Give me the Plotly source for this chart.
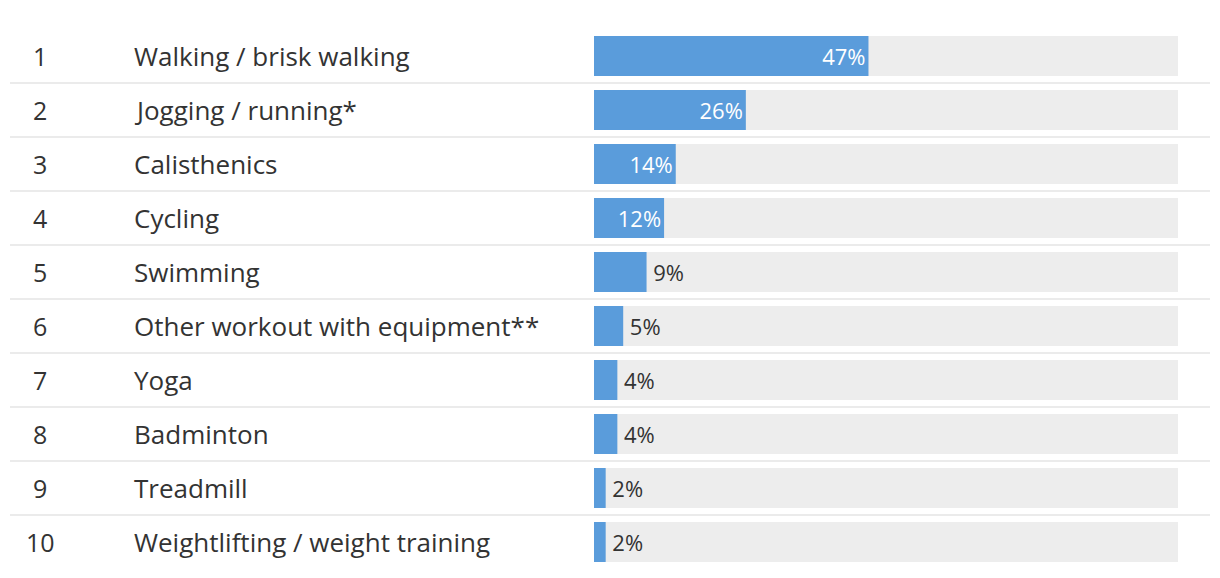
import plotly.graph_objects as go

ranks = ["1", "2", "3", "4", "5", "6", "7", "8", "9", "10"]
activities = [
    "Walking / brisk walking",
    "Jogging / running*",
    "Calisthenics",
    "Cycling",
    "Swimming",
    "Other workout with equipment**",
    "Yoga",
    "Badminton",
    "Treadmill",
    "Weightlifting / weight training",
]
values = [47, 26, 14, 12, 9, 5, 4, 4, 2, 2]
full = [100] * len(values)

W, H = 1220, 578
FONT = "Open Sans"
TEXT = "#333333"
BLUE = "#5a9cdb"
GREY = "#ededed"

ypos = list(range(len(values)))

fig = go.Figure()
fig.add_trace(go.Bar(
    x=full, y=ypos, orientation="h", marker=dict(color=GREY, line=dict(width=0)),
    width=0.74, hoverinfo="skip", showlegend=False,
))
positions = ["inside" if v >= 12 else "outside" for v in values]
colors = ["white" if v >= 12 else TEXT for v in values]
labels = [f"{v}%" if v >= 12 else f"\u2009{v}%" for v in values]
fig.add_trace(go.Bar(
    x=values, y=ypos, orientation="h", marker=dict(color=BLUE, line=dict(width=0)),
    width=0.74, text=labels, textposition=positions,
    insidetextanchor="end", constraintext="none", cliponaxis=False,
    textfont=dict(family=FONT, size=22, color=colors),
    showlegend=False,
))

for i, (r, a) in enumerate(zip(ranks, activities)):
    fig.add_annotation(x=40 / W, xref="paper", y=i, yref="y", text=r,
                       showarrow=False, xanchor="center",
                       font=dict(family=FONT, size=25, color=TEXT))
    fig.add_annotation(x=132 / W, xref="paper", y=i, yref="y", text=a,
                       showarrow=False, xanchor="left",
                       font=dict(family=FONT, size=26, color=TEXT))

for i in range(len(values) - 1):
    fig.add_shape(type="line", xref="paper", yref="y",
                  x0=10 / W, x1=1210 / W, y0=i + 0.5, y1=i + 0.5,
                  line=dict(color="#ebebeb", width=2), layer="below")

fig.update_layout(
    width=W, height=H, margin=dict(l=0, r=0, t=0, b=0),
    paper_bgcolor="white", plot_bgcolor="white", barmode="overlay",
    xaxis=dict(domain=[594 / W, 1178 / W], range=[0, 100], visible=False, fixedrange=True),
    yaxis=dict(domain=[(H - 569) / H, (H - 29) / H], range=[9.5, -0.5],
               visible=False, fixedrange=True),
    font=dict(family=FONT, color=TEXT),
)

fig.write_html("out.html", config={"displayModeBar": False})
